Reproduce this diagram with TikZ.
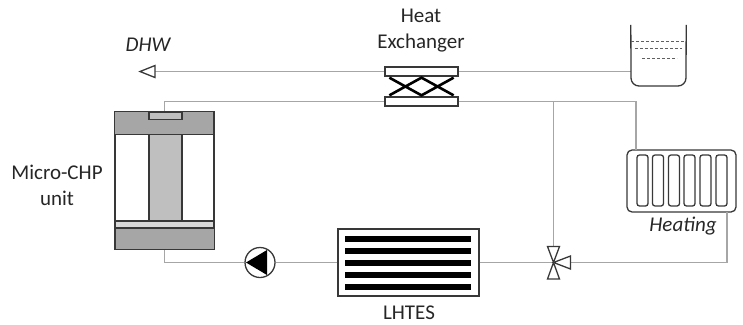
\documentclass[tikz,border=0pt]{standalone}
\usepackage{fontspec}
\setmainfont{Carlito}
\usepackage{xcolor}
\usetikzlibrary{calc}
\definecolor{pipe}{HTML}{a6a6a6}
\definecolor{edge}{HTML}{383838}
\definecolor{chpDark}{HTML}{a6a6a6}
\definecolor{chpMid}{HTML}{bfbfbf}
\definecolor{chpLight}{HTML}{d9d9d9}
\begin{document}
\begin{tikzpicture}[x=1pt, y=-1pt,
  pipeline/.style={draw=pipe, line width=1.4pt},
  outline/.style={draw=edge, line width=1.3pt},
  plate/.style={outline, fill=white, minimum width=73pt, minimum height=9pt, inner sep=0pt},
  label/.style={font=\fontsize{21}{26}\selectfont, align=center, text=black!85, inner sep=0pt},
  slanted/.style={label, font=\fontsize{21}{26}\selectfont\itshape},
  hole/.style={inner sep=0pt, minimum size=0pt}]
\useasboundingbox (0,0) rectangle (743,324);
% components
\node[plate] (hxtop) at (421.5,71.5) {};
\node[plate] (hxbot) at (421.5,101.5) {};
\node[hole, minimum width=99pt, minimum height=137pt] (chp) at (164.5,180.5) {};
\node[hole, minimum width=55pt, minimum height=61pt] (tank) at (658.5,55.5) {};
\node[outline, rounded corners=5pt, inner sep=0pt, minimum width=109pt, minimum height=62pt] (radiator) at (681.5,181) {};
\node[outline, inner sep=0pt, minimum width=141pt, minimum height=67pt] (lhtes) at (408.5,262.5) {};
\node[outline, circle, fill=white, inner sep=0pt, minimum size=30pt] (pump) at (260,262.5) {};
\node[hole, minimum width=34pt, minimum height=32pt] (valve) at (553.5,262.5) {};
\coordinate (tee) at (hxbot -| valve);
\coordinate (radin) at (636,150);
\coordinate (radout) at (727,212);
\coordinate (dhwend) at (155,71.5);
% pipes
\draw[pipeline] (hxtop.west) -- (dhwend);
\draw[pipeline] (tank.west |- hxtop) -- (hxtop.east);
\draw[pipeline] (chp.north) |- (hxbot.west);
\draw[pipeline] (hxbot.east) -- (tee) -| (radin);
\draw[pipeline] (tee) -- (valve.north);
\draw[pipeline] (radout) |- (valve.east);
\draw[pipeline] (lhtes.east) -- (valve.center);
\draw[pipeline] (lhtes.west) -- (pump.east);
\draw[pipeline] (pump.west) -| (chp.south);
% DHW outlet
\draw[outline, fill=white] (dhwend) -- ++(0,-6) -- (140,71.5) -- (155,77.5) -- cycle;
% heat exchanger
\draw[draw=black, line width=2.6pt] ($(hxtop.south west)+(5,1)$) -- ($(hxbot.north)+(0,-1)$) -- ($(hxtop.south east)+(-5,1)$)
  ($(hxbot.north west)+(5,-1)$) -- ($(hxtop.south)+(0,1)$) -- ($(hxbot.north east)+(-5,-1)$);
% micro-CHP
\draw[outline, fill=chpDark] (chp.north west) rectangle (214,134.5);
\draw[outline, fill=chpMid] (149,112) rectangle (182,119.5);
\draw[outline, fill=chpMid] (149,134.5) rectangle (182,221);
\draw[outline] (115,134.5) rectangle (214,221);
\draw[outline, fill=chpLight] (115,221) rectangle (214,228);
\draw[outline, fill=chpDark] (115,228) rectangle (chp.south east);
% tank
\draw[outline] (tank.north west) -- (631,78) arc[start angle=180, end angle=90, radius=8pt, y radius=-8pt] -- (678,86) arc[start angle=90, end angle=0, radius=8pt, y radius=-8pt] -- (tank.north east);
\draw[draw=edge!80, densely dashed, line width=0.5pt] (631,41) -- (686,41) (635,48.5) -- (682,48.5) (642,58) -- (677,58);
% radiator columns
\foreach \xa in {637,652.5,668.5,684,700,716}
{\draw[outline, rounded corners=2.5pt] (\xa,155) rectangle (\xa+11,206);}
% storage bars
\foreach \ya in {239,251,263,275,287}
{\fill[black] (345,\ya-3) rectangle (471,\ya+3);}
% pump
\fill[black] (246,262.5) -- (267,250) -- (267,275) -- cycle;
% valve
\draw[outline, fill=white] (valve.center) -- (547.5,246.5) -- (559.5,246.5) -- cycle;
\draw[outline, fill=white] (valve.center) -- (547.5,279) -- (559.5,279) -- cycle;
\draw[outline, fill=white] (valve.center) -- (570.5,256) -- (570.5,269) -- cycle;
% labels
\node[slanted] (dhwlabel) at (148,45) {DHW};
\node[label] (hxlabel) at (421,31) {Heat\\Exchanger};
\node[label] (chplabel) at (57,185) {Micro-CHP\\unit};
\node[label] (lhteslabel) at (409,313) {LHTES};
\node[slanted] (heatlabel) at (683,226) {Heating};
\end{tikzpicture}
\end{document}
